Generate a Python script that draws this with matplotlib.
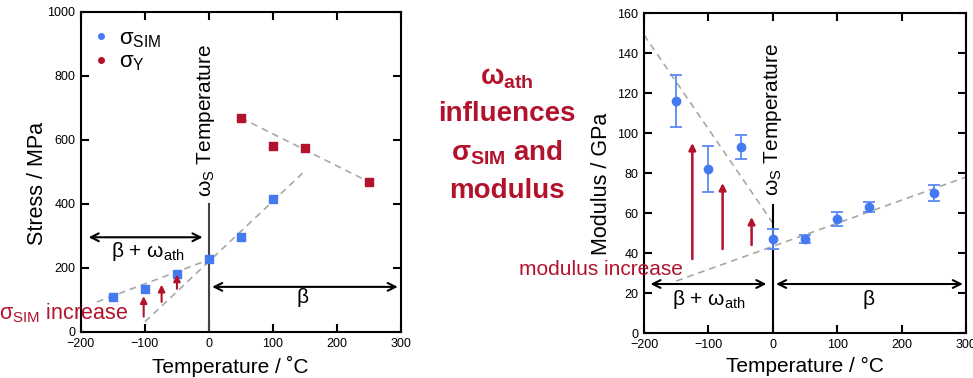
import matplotlib.pyplot as plt
import matplotlib.ticker as mticker

plt.rcParams['font.family'] = ['Liberation Sans', 'DejaVu Sans']
plt.rcParams['mathtext.fontset'] = 'custom'
plt.rcParams['mathtext.rm'] = 'Liberation Sans'
plt.rcParams['mathtext.bf'] = 'Liberation Sans:bold'

BLUE = "#4479f0"
RED = "#b3122c"
GREY = "#a8a8a8"

# left panel: stress
sim_temp = [-150, -100, -50, 0, 50, 100]
sim_stress = [108, 135, 182, 229, 296, 417]
y_temp = [50, 100, 150, 250]
y_stress = [669, 580, 576, 469]

# dashed trend lines (endpoints)
fit1_t, fit1_s = [-175, 0], [94, 226]
fit2_t, fit2_s = [-100, 152], [32, 507]
fit3_t, fit3_s = [50, 250], [669, 469]

# red "increase" arrows: x, from, to
inc_x = [-102, -74, -50]
inc_from = [48, 94, 135]
inc_to = [112, 148, 180]

# right panel: modulus
mod_temp = [-150, -100, -50, 0, 50, 100, 150, 250]
modulus = [116, 82, 93, 47, 47, 57, 63, 70]
mod_err = [13, 11.5, 6, 5, 2, 3.5, 2.5, 4]

fitA_t, fitA_m = [-200, 0], [149, 55]
fitB_t, fitB_m = [-150, 300], [26, 78]

mod_inc_x = [-125, -78, -33]
mod_inc_from = [37, 42, 44]
mod_inc_to = [95, 75, 58]

fig = plt.figure(figsize=(9.73, 3.78), dpi=100)
ax1 = fig.add_axes([0.0832, 0.1217, 0.3289, 0.8466])
ax2 = fig.add_axes([0.6619, 0.119, 0.331, 0.8466])

for ax in (ax1, ax2):
    ax.set_xlim(-200, 300)
    ax.xaxis.set_major_locator(mticker.MultipleLocator(100))
    ax.tick_params(direction='in', top=True, right=True, length=6, width=1.5,
                   labelsize=9, pad=4)
    for s in ax.spines.values():
        s.set_linewidth(1.5)

ax1.set_xlabel("Temperature / \u02daC", fontsize=15)
ax1.xaxis.set_label_coords(0.466, -0.075)
ax2.set_xlabel("Temperature / \u00b0C", fontsize=15)
ax2.xaxis.set_label_coords(0.5, -0.075)

# ---- left chart
ax1.set_ylim(0, 1000)
ax1.yaxis.set_major_locator(mticker.MultipleLocator(200))
ax1.set_ylabel("Stress / MPa", fontsize=15.5)
ax1.yaxis.set_label_coords(-0.104, 0.465)

ax1.plot(fit1_t, fit1_s, ls=(0, (4, 3)), color=GREY, lw=1.2, zorder=1)
ax1.plot(fit2_t, fit2_s, ls=(0, (4, 3)), color=GREY, lw=1.2, zorder=1)
ax1.plot(fit3_t, fit3_s, ls=(0, (4, 3)), color=GREY, lw=1.2, zorder=1)
ax1.scatter(sim_temp, sim_stress, marker='s', s=36, color=BLUE, zorder=3)
ax1.scatter(y_temp, y_stress, marker='s', s=36, color=RED, zorder=3)
ax1.plot([0, 0], [0, 400], color="#444444", lw=1.5, zorder=2)

leg_h = [plt.Line2D([], [], ls='', marker='o', ms=4, color=BLUE),
         plt.Line2D([], [], ls='', marker='o', ms=4, color=RED)]
ax1.legend(leg_h, ["\u03c3$_{\\mathrm{SIM}}$", "\u03c3$_{\\mathrm{Y}}$"], loc='upper left',
           bbox_to_anchor=(0.036, 0.95), frameon=False, fontsize=16,
           borderpad=0, borderaxespad=0,
           handlelength=0.8, handletextpad=0.4, labelspacing=0.1)

for x, a, b in zip(inc_x, inc_from, inc_to):
    ax1.annotate("", xy=(x, b), xytext=(x, a),
                 arrowprops=dict(arrowstyle='-|>', color=RED, lw=1.5,
                                 mutation_scale=10, shrinkA=0, shrinkB=0))

ax1.annotate("", xy=(-188, 296), xytext=(-10, 296),
             arrowprops=dict(arrowstyle='<->', color='black', lw=1.5,
                             mutation_scale=14, shrinkA=0, shrinkB=0))
ax1.text(-95, 250, "\u03b2 + \u03c9$_{\\mathrm{ath}}$", fontsize=15, ha='center', va='center')
ax1.annotate("", xy=(5, 141), xytext=(295, 141),
             arrowprops=dict(arrowstyle='<->', color='black', lw=1.5,
                             mutation_scale=14, shrinkA=0, shrinkB=0))
ax1.text(147, 108, "\u03b2", fontsize=15, ha='center', va='center')
ax1.text(-5, 660, "\u03c9$_{\\mathrm{S}}$ Temperature", fontsize=15, rotation=90,
         ha='center', va='center')
ax1.text(-127, 59, "\u03c3$_{\\mathrm{SIM}}$ increase", fontsize=15.5, color=RED,
         ha='right', va='center', clip_on=False)

# ---- centre text
fig.text(0.521, 0.645, "\u03c9$_{\\mathbf{ath}}$\ninfluences\n\u03c3$_{\\mathbf{SIM}}$ and\nmodulus",
         fontsize=20, fontweight='bold', color=RED, ha='center', va='center',
         linespacing=1.52)

# ---- right chart
ax2.set_ylim(0, 160)
ax2.yaxis.set_major_locator(mticker.MultipleLocator(20))
ax2.set_ylabel("Modulus / GPa", fontsize=15.5)
ax2.yaxis.set_label_coords(-0.098, 0.465)

ax2.plot(fitA_t, fitA_m, ls=(0, (4, 3)), color=GREY, lw=1.2, zorder=1)
ax2.plot(fitB_t, fitB_m, ls=(0, (4, 3)), color=GREY, lw=1.2, zorder=1)
ax2.errorbar(mod_temp, modulus, yerr=mod_err, fmt='o', ms=6, color=BLUE,
             ecolor="#5b8af5", elinewidth=1.3, capsize=4, capthick=1.3, zorder=3)
ax2.plot([0, 0], [0, 64], color="black", lw=1.5, zorder=2)

for x, a, b in zip(mod_inc_x, mod_inc_from, mod_inc_to):
    ax2.annotate("", xy=(x, b), xytext=(x, a),
                 arrowprops=dict(arrowstyle='-|>', color=RED, lw=1.8,
                                 mutation_scale=10, shrinkA=0, shrinkB=0))

ax2.annotate("", xy=(-190, 24.5), xytext=(-10, 24.5),
             arrowprops=dict(arrowstyle='<->', color='black', lw=1.5,
                             mutation_scale=14, shrinkA=0, shrinkB=0))
ax2.text(-100, 17, "\u03b2 + \u03c9$_{\\mathrm{ath}}$", fontsize=15, ha='center', va='center')
ax2.annotate("", xy=(5, 24.5), xytext=(295, 24.5),
             arrowprops=dict(arrowstyle='<->', color='black', lw=1.5,
                             mutation_scale=14, shrinkA=0, shrinkB=0))
ax2.text(148, 17, "\u03b2", fontsize=15, ha='center', va='center')
ax2.text(0, 107, "\u03c9$_{\\mathrm{S}}$ Temperature", fontsize=15, rotation=90,
         ha='center', va='center')
ax2.text(-139, 32, "modulus increase", fontsize=15, color=RED,
         ha='right', va='center', clip_on=False)

fig.savefig("out.png", dpi=100)
